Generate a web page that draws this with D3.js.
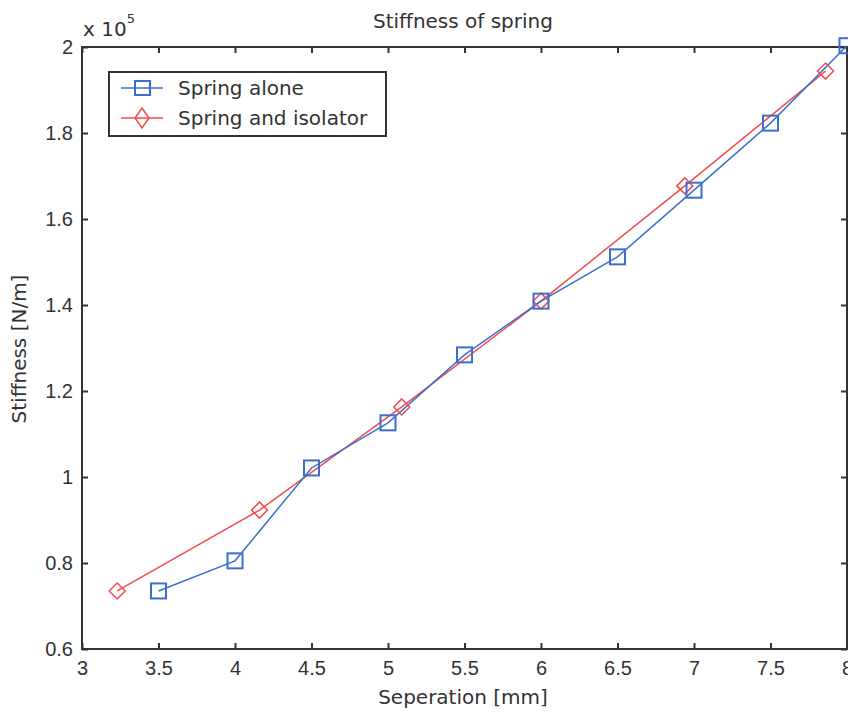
<!DOCTYPE html>
<html>
<head>
<meta charset="utf-8">
<script src="https://cdn.jsdelivr.net/npm/d3@7"></script>
<style>
  body { margin: 0; background: #fff; }
  svg { display: block; font-family: "DejaVu Sans", sans-serif; }
</style>
</head>
<body>
<svg id="chart"></svg>
<script>
// separation [mm] and stiffness [x 1e5 N/m]
var aloneX = [3.5, 4, 4.5, 5, 5.5, 6, 6.5, 7, 7.5, 8];
var aloneY = [0.735, 0.805, 1.021, 1.126, 1.284, 1.409, 1.512, 1.667, 1.823, 2.003];
var isoX = [3.23, 4.16, 5.09, 6.0, 6.94, 7.86];
var isoY = [0.735, 0.923, 1.163, 1.409, 1.677, 1.944];
var xTicks = [3, 3.5, 4, 4.5, 5, 5.5, 6, 6.5, 7, 7.5, 8];
var yTicks = [0.6, 0.8, 1, 1.2, 1.4, 1.6, 1.8, 2];
var seriesNames = ["Spring alone", "Spring and isolator"];

var width = 848, height = 712;
var margin = {top: 47, right: 1, bottom: 63, left: 82};
var blue = "#3c6fcb", red = "#f24c4c", ink = "#333";

var svg = d3.select("#chart")
  .attr("width", width)
  .attr("height", height);

var x = d3.scaleLinear().domain([3, 8]).range([margin.left, width - margin.right]);
var y = d3.scaleLinear().domain([0.6, 2]).range([height - margin.bottom, margin.top]);

var fmt = d => d3.format("")(d);

// axes (ticks pointing in, matlab style)
svg.append("g")
  .attr("transform", `translate(0,${y(0.6)})`)
  .call(d3.axisBottom(x).tickValues(xTicks).tickSize(-6).tickPadding(12).tickFormat(fmt))
  .call(g => g.select(".domain").remove())
  .call(g => g.selectAll("line").attr("stroke", ink).attr("stroke-width", 2))
  .call(g => g.selectAll("text").attr("font-size", 20).attr("fill", ink));

svg.append("g")
  .attr("transform", `translate(${x(3)},0)`)
  .call(d3.axisLeft(y).tickValues(yTicks).tickSize(-6).tickPadding(9).tickFormat(fmt))
  .call(g => g.select(".domain").remove())
  .call(g => g.selectAll("line").attr("stroke", ink).attr("stroke-width", 2))
  .call(g => g.selectAll("text").attr("font-size", 20).attr("fill", ink));

svg.append("g")
  .attr("transform", `translate(0,${y(2)})`)
  .call(d3.axisTop(x).tickValues(xTicks).tickSize(-6).tickFormat(""))
  .call(g => g.select(".domain").remove())
  .call(g => g.selectAll("line").attr("stroke", ink).attr("stroke-width", 2));

svg.append("g")
  .attr("transform", `translate(${x(8)},0)`)
  .call(d3.axisRight(y).tickValues(yTicks).tickSize(-6).tickFormat(""))
  .call(g => g.select(".domain").remove())
  .call(g => g.selectAll("line").attr("stroke", ink).attr("stroke-width", 2));

svg.append("rect")
  .attr("x", x(3)).attr("y", y(2))
  .attr("width", x(8) - x(3)).attr("height", y(0.6) - y(2))
  .attr("fill", "none").attr("stroke", ink).attr("stroke-width", 2);

// lines
var line = d3.line().x(d => x(d[0])).y(d => y(d[1]));
var alone = aloneX.map((v, i) => [v, aloneY[i]]);
var iso = isoX.map((v, i) => [v, isoY[i]]);

svg.append("path").datum(iso).attr("d", line)
  .attr("fill", "none").attr("stroke", red).attr("stroke-width", 1.5);
svg.append("path").datum(alone).attr("d", line)
  .attr("fill", "none").attr("stroke", blue).attr("stroke-width", 1.5);

var diamond = (w, h) => `M0,${-h}L${w},0L0,${h}L${-w},0Z`;

svg.append("g").selectAll("path")
  .data(iso).join("path")
  .attr("transform", d => `translate(${x(d[0])},${y(d[1])})`)
  .attr("d", diamond(8, 8))
  .attr("fill", "none").attr("stroke", red).attr("stroke-width", 1.5);

svg.append("g").selectAll("rect")
  .data(alone).join("rect")
  .attr("x", d => x(d[0]) - 7.5).attr("y", d => y(d[1]) - 7.5)
  .attr("width", 15).attr("height", 15)
  .attr("fill", "none").attr("stroke", blue).attr("stroke-width", 2);

// legend
var lg = svg.append("g").attr("transform", "translate(109,72)");
lg.append("rect").attr("width", 277).attr("height", 64)
  .attr("fill", "#fff").attr("stroke", ink).attr("stroke-width", 2);
var rows = lg.selectAll("g.row").data(seriesNames).join("g")
  .attr("class", "row")
  .attr("transform", (d, i) => `translate(0,${16 + i * 30})`);
rows.append("line").attr("x1", 12).attr("x2", 54)
  .attr("stroke", (d, i) => i ? red : blue).attr("stroke-width", 1.5);
rows.filter((d, i) => i === 0).append("rect")
  .attr("x", 26).attr("y", -7).attr("width", 15).attr("height", 14)
  .attr("fill", "none").attr("stroke", blue).attr("stroke-width", 2);
rows.filter((d, i) => i === 1).append("path")
  .attr("transform", "translate(33,0)")
  .attr("d", diamond(7, 10))
  .attr("fill", "none").attr("stroke", red).attr("stroke-width", 1.5);
rows.append("text").attr("x", 69).attr("dy", "0.35em")
  .attr("font-size", 20).attr("fill", ink).text(d => d);

// titles
svg.append("text").attr("x", 463).attr("y", 28).attr("text-anchor", "middle")
  .attr("font-size", 20).attr("fill", ink).text("Stiffness of spring");
svg.append("text").attr("x", 463).attr("y", 704).attr("text-anchor", "middle")
  .attr("font-size", 20).attr("fill", ink).text("Seperation [mm]");
svg.append("text")
  .attr("transform", "translate(26,349) rotate(-90)")
  .attr("text-anchor", "middle")
  .attr("font-size", 20).attr("fill", ink).text("Stiffness [N/m]");

var mult = svg.append("text").attr("x", 83).attr("y", 36)
  .attr("font-size", 20).attr("fill", ink);
mult.append("tspan").text("x 10");
mult.append("tspan").attr("dy", -13).attr("font-size", 13).text("5");
</script>
</body>
</html>
